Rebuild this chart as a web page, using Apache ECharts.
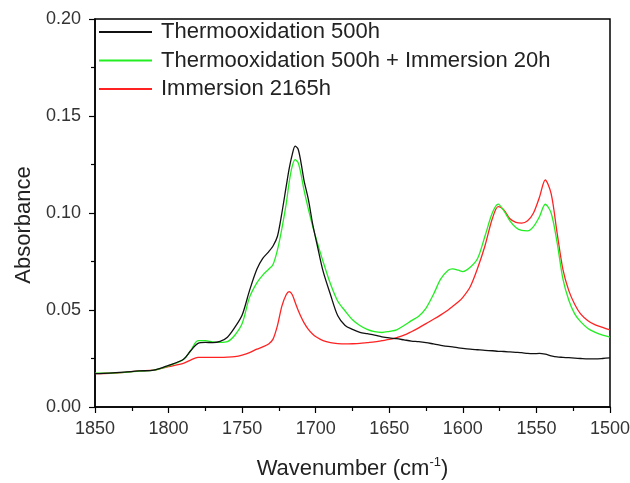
<!DOCTYPE html>
<html><head><meta charset="utf-8">
<script src="https://cdn.jsdelivr.net/npm/echarts@6/dist/echarts.min.js"></script>
<style>html,body{margin:0;padding:0;background:#fff}#c{width:630px;height:483px}</style>
</head><body><div id="c"></div>
<script>
const wavenumbers = [1850,1840,1830,1820,1810,1800,1790,1785,1780,1775,1770,1765,1760,1755,1750,1745,1740,1736,1732,1729,1726,1723,1720,1718,1716,1714,1712,1710,1708,1705,1702,1699,1695,1690,1685,1680,1675,1670,1665,1660,1655,1650,1645,1640,1635,1630,1625,1620,1615,1610,1607,1603,1600,1595,1590,1585,1580,1576,1572,1568,1564,1560,1556,1552,1548,1544,1540,1536,1532,1528,1524,1520,1515,1510,1505,1500];
const thermo500 = [0.0172,0.0175,0.018,0.0186,0.019,0.0215,0.0245,0.029,0.0328,0.0333,0.0332,0.0338,0.036,0.041,0.0474,0.060,0.071,0.0766,0.080,0.083,0.088,0.100,0.114,0.123,0.130,0.1345,0.133,0.126,0.117,0.107,0.094,0.0835,0.070,0.058,0.047,0.042,0.040,0.0385,0.0378,0.0371,0.0362,0.0356,0.0352,0.0346,0.034,0.0337,0.0332,0.0325,0.0318,0.0312,0.031,0.0305,0.0302,0.0298,0.0295,0.0292,0.029,0.0287,0.0286,0.0284,0.0282,0.028,0.0276,0.0275,0.0276,0.0272,0.0264,0.0258,0.0256,0.0254,0.0252,0.025,0.0248,0.0248,0.025,0.0253];
const thermoImm = [0.0175,0.0175,0.0178,0.0185,0.019,0.0212,0.0245,0.029,0.0342,0.0342,0.0336,0.0333,0.0337,0.037,0.043,0.0565,0.064,0.068,0.071,0.0735,0.081,0.092,0.105,0.116,0.124,0.1275,0.126,0.12,0.112,0.102,0.093,0.085,0.075,0.0635,0.0545,0.0495,0.045,0.042,0.040,0.0388,0.0384,0.039,0.0398,0.042,0.0445,0.0468,0.051,0.058,0.066,0.0705,0.0712,0.0705,0.0698,0.072,0.0765,0.088,0.100,0.1046,0.101,0.096,0.0925,0.091,0.0908,0.093,0.098,0.1045,0.100,0.085,0.066,0.055,0.048,0.044,0.0405,0.0385,0.037,0.036];
const imm2165 = [0.0172,0.0174,0.0178,0.0186,0.019,0.0208,0.0225,0.0242,0.0256,0.0256,0.0256,0.0256,0.0257,0.026,0.0268,0.028,0.0298,0.031,0.0325,0.035,0.042,0.052,0.058,0.0595,0.058,0.054,0.050,0.0465,0.0435,0.040,0.0375,0.0358,0.0342,0.0332,0.0327,0.0325,0.0326,0.0328,0.0332,0.0336,0.0342,0.0348,0.0358,0.037,0.0388,0.0408,0.043,0.0452,0.0475,0.050,0.0518,0.0542,0.0565,0.062,0.0715,0.083,0.097,0.1033,0.1015,0.097,0.0952,0.0948,0.096,0.100,0.108,0.117,0.110,0.090,0.071,0.060,0.053,0.048,0.0445,0.0423,0.041,0.0397];
const seriesNames = ['Thermooxidation 500h','Thermooxidation 500h + Immersion 20h','Immersion 2165h'];
const xTicks = [1850,1800,1750,1700,1650,1600,1550,1500];
const yTicks = [0.00,0.05,0.10,0.15,0.20];

const pair = arr => wavenumbers.map((w,i)=>[w,arr[i]]);
const colors = ['#111111','#22ee22','#ff2222'];
const FONT = 'Liberation Sans, Arial, sans-serif';
const chart = echarts.init(document.getElementById('c'));
chart.setOption({
  animation:false,
  backgroundColor:'#fff',
  grid:{left:95,right:20,top:19,bottom:76,outerBoundsMode:'none',containLabel:false,show:true,borderColor:'#000',borderWidth:1.5,backgroundColor:'transparent'},
  legend:{
    orient:'vertical',left:99,top:21,itemGap:6.5,itemWidth:53,itemHeight:2,icon:'rect',padding:0,
    data:seriesNames,
    textStyle:{fontFamily:FONT,fontSize:22,color:'#222',padding:[0,0,0,4]}
  },
  xAxis:{
    type:'value',inverse:true,min:1500,max:1850,interval:50,
    axisLine:{show:true,lineStyle:{color:'#000',width:1.5}},
    axisTick:{show:true,length:6,lineStyle:{color:'#000',width:1.2}},
    minorTick:{show:true,splitNumber:2,length:4,lineStyle:{color:'#000',width:1.2}},
    splitLine:{show:false},
    axisLabel:{fontFamily:FONT,fontSize:18,color:'#333',margin:13,
      formatter:v=>xTicks.includes(v)?String(v):''},
    name:'Wavenumber (cm{sup|-1})',nameLocation:'middle',nameGap:49,
    nameTextStyle:{fontFamily:FONT,fontSize:22,color:'#222',
      rich:{sup:{fontFamily:FONT,fontSize:13,color:'#222',padding:[0,0,12,0]}}}
  },
  yAxis:{
    type:'value',min:0,max:0.2,interval:0.05,
    axisLine:{show:true,lineStyle:{color:'#000',width:1.5}},
    axisTick:{show:true,length:6,lineStyle:{color:'#000',width:1.2}},
    minorTick:{show:true,splitNumber:2,length:4,lineStyle:{color:'#000',width:1.2}},
    splitLine:{show:false},
    axisLabel:{fontFamily:FONT,fontSize:18,color:'#333',margin:14,
      formatter:v=>{const t=yTicks.find(y=>Math.abs(y-v)<1e-9);return t===undefined?'':t.toFixed(2);}},
    name:'Absorbance',nameLocation:'middle',nameGap:60,
    nameTextStyle:{fontFamily:FONT,fontSize:22,color:'#222',padding:[0,24,0,0]}
  },
  series:[thermo500,thermoImm,imm2165].map((d,i)=>({
    name:seriesNames[i],type:'line',data:pair(d),smooth:0.3,showSymbol:false,
    lineStyle:{color:colors[i],width:1.3},itemStyle:{color:colors[i]},z:3-i
  }))
});
</script></body></html>
